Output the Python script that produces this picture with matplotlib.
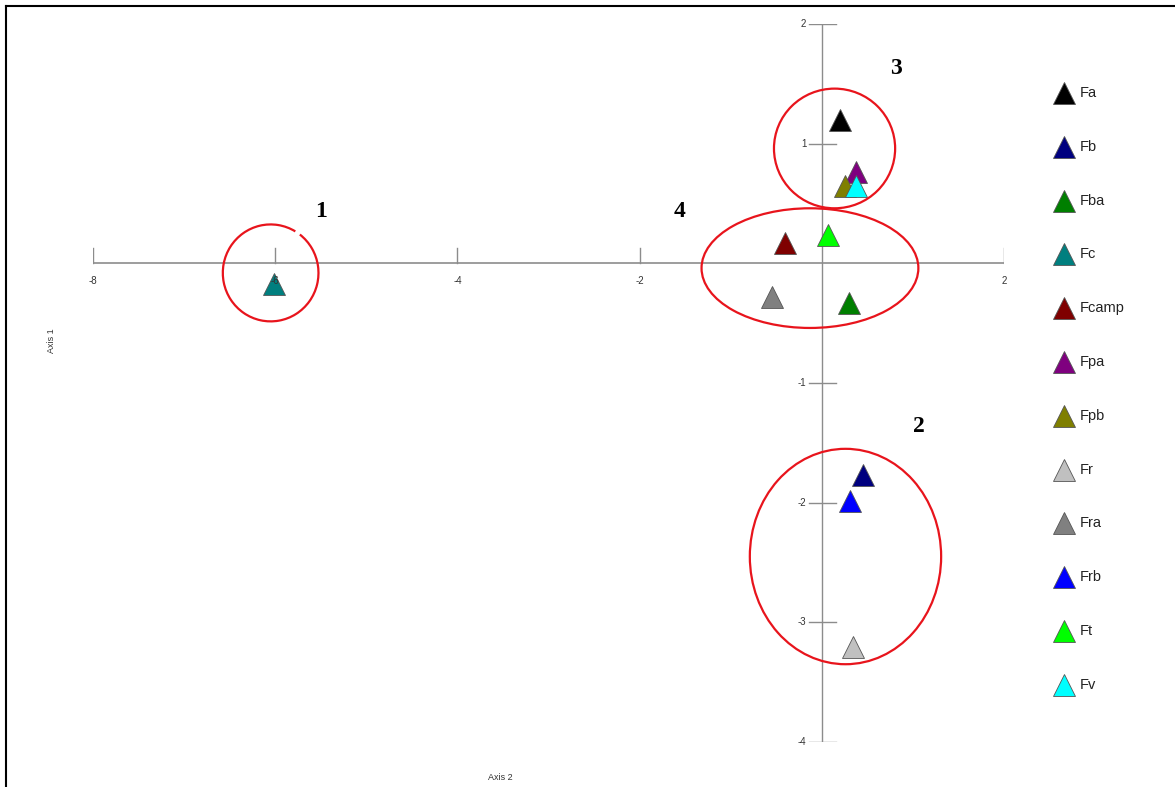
# PCA-style ordination plot, groups circled in red

import numpy as np
import matplotlib.pyplot as plt
from matplotlib.patches import Ellipse, Arc
from matplotlib.lines import Line2D

# data
names = ["Fa", "Fb", "Fba", "Fc", "Fcamp", "Fpa", "Fpb", "Fr", "Fra", "Frb", "Ft", "Fv"]
axis2 = [0.20, 0.45, 0.30, -6.01, -0.40, 0.38, 0.26, 0.34, -0.55, 0.31, 0.07, 0.38]
axis1 = [1.20, -1.77, -0.33, -0.17, 0.17, 0.76, 0.65, -3.21, -0.28, -1.99, 0.24, 0.65]
colors = ["#000000", "#00007f", "#007f00", "#007f7f", "#7f0000", "#7f007f",
          "#7f7f00", "#c0c0c0", "#808080", "#0000ff", "#00ff00", "#00ffff"]

x_ticks = [-8, -6, -4, -2, 2]
y_ticks = [-4, -3, -2, -1, 1, 2]

# groups: label, (cx, cy), width, height, label position
groups = [
    ("1", (-6.05, -0.08), 1.05, 0.81, (-5.5, 0.43)),
    ("2", (0.26, -2.45), 2.10, 1.80, (1.07, -1.36)),
    ("3", (0.14, 0.96), 1.33, 1.00, (0.81, 1.63)),
    ("4", (-0.13, -0.04), 2.38, 1.00, (-1.56, 0.43)),
]

W, H = 1175, 787
fig = plt.figure(figsize=(W / 100, H / 100), dpi=100)
ax = fig.add_axes([93 / W, 1 - 742 / H, (1004 - 93) / W, (742 - 24) / H])
ax.set_xlim(-8, 2)
ax.set_ylim(-4, 2)
ax.axis("off")

axcol = "#8c8c8c"
# axes crossing at origin
ax.plot([-8, 2], [0, 0], color=axcol, lw=1.2, zorder=1)
ax.plot([0, 0], [-4, 2], color=axcol, lw=1.0, zorder=1)

# x ticks (vertical marks) and labels
for t in x_ticks:
    ax.plot([t, t], [0, 0.13], color=axcol, lw=1.0, zorder=1)
    ax.text(t, -0.15, str(t), ha="center", va="center", fontsize=7,
            color="#333333", family="Liberation Sans", zorder=5)

# y ticks (horizontal marks) and labels
for t in y_ticks:
    ax.plot([-0.14, 0.16], [t, t], color=axcol, lw=1.0, zorder=1)
    ax.text(-0.17, t, str(t), ha="right", va="center", fontsize=7,
            color="#333333", family="Liberation Sans", zorder=5)

# points
for i in range(len(names)):
    ax.plot(axis2[i], axis1[i], marker="^", ms=15.5, color=colors[i],
            markeredgecolor="#555555", markeredgewidth=0.6, ls="none",
            clip_on=False, zorder=3)

# red group outlines
red = "#e8141c"
for lab, c, w, h, pos in groups:
    if lab == "1":
        # circle 1 has a small gap at upper right
        ax.add_patch(Arc(c, w, h, theta1=52, theta2=405, color=red, lw=1.6, zorder=4))
    else:
        ax.add_patch(Ellipse(c, w, h, fill=False, edgecolor=red, lw=1.6, zorder=4))
    ax.text(pos[0], pos[1], lab, ha="center", va="center", fontsize=17,
            fontweight="bold", family="Liberation Serif", color="black")

# legend drawn manually
leg_y0 = 93
leg_dy = 53.8
for i in range(len(names)):
    yy = 1 - (leg_y0 + i * leg_dy) / H
    fig.lines.append(Line2D([1064 / W], [yy], marker="^", ms=16.5, color=colors[i],
                            markeredgecolor="#555555", markeredgewidth=0.6,
                            ls="none", transform=fig.transFigure))
    fig.text(1080 / W, yy, names[i], ha="left", va="center", fontsize=10.5,
             color="#222222", family="Liberation Sans")

# axis titles
fig.text(52 / W, 1 - 341 / H, "Axis 1", rotation=90, ha="center", va="center",
         fontsize=6.5, color="#333333", family="Liberation Sans")
fig.text(500 / W, 1 - 778 / H, "Axis 2", ha="center", va="center",
         fontsize=6.5, color="#333333", family="Liberation Sans")

# outer frame: top and left only
fig.lines.append(Line2D([6 / W, 1], [1 - 6 / H, 1 - 6 / H], color="black", lw=1.5,
                        transform=fig.transFigure))
fig.lines.append(Line2D([6 / W, 6 / W], [0, 1 - 6 / H], color="black", lw=1.5,
                        transform=fig.transFigure))

fig.savefig("out.png", dpi=100)
